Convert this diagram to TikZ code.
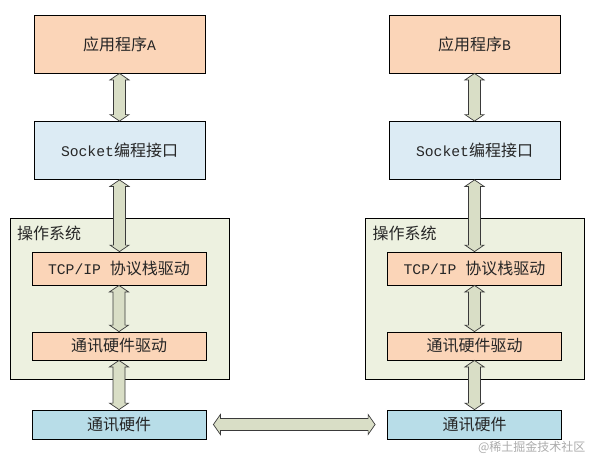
\documentclass[tikz,border=0pt]{standalone}
\usepackage{fontspec}
\setmainfont{Noto Sans CJK SC}
\setmonofont{Liberation Mono}[Scale=0.92]
\usetikzlibrary{calc}

\definecolor{appfill}{HTML}{FBD5B8}
\definecolor{sockfill}{HTML}{DCEBF4}
\definecolor{hwfill}{HTML}{B8DDE8}
\definecolor{osfill}{HTML}{EDF1E0}
\definecolor{arrowfill}{HTML}{D9DEC6}
\definecolor{arrowline}{HTML}{3A3A3A}

\begin{document}
\begin{tikzpicture}[x=1pt, y=-1pt,
        box/.style={draw=black, line width=0.8pt, inner sep=0pt, text=black!85,
            font={\fontsize{16}{19}\selectfont}},
        appbox/.style={box, fill=appfill, minimum width=171pt, minimum height=58pt},
        sockbox/.style={box, fill=sockfill, minimum width=171pt, minimum height=58pt},
        osbox/.style={box, fill=osfill, minimum width=219pt, minimum height=161pt},
        layerbox/.style={box, fill=appfill, minimum width=174pt},
        hwbox/.style={box, fill=hwfill, minimum width=174pt, minimum height=29pt},
        varrow/.style={fill=arrowfill, draw=arrowline, line width=0.7pt, line join=miter,
            to path={let \p1=(\tikztostart), \p2=(\tikztotarget) in
                (\x1,\y1) -- (\x1+9.5pt,\y1-6.5pt) -- (\x1+6pt,\y1-6.5pt)
                -- (\x1+6pt,\y2+6.5pt) -- (\x1+9.5pt,\y2+6.5pt) -- (\x1,\y2)
                -- (\x1-9.5pt,\y2+6.5pt) -- (\x1-6pt,\y2+6.5pt)
                -- (\x1-6pt,\y1-6.5pt) -- (\x1-9.5pt,\y1-6.5pt) -- cycle}},
        harrow/.style={fill=arrowfill, draw=arrowline, line width=0.7pt, line join=miter,
            to path={let \p1=(\tikztostart), \p2=(\tikztotarget) in
                (\x1,\y1) -- (\x1+7pt,\y1+10pt) -- (\x1+7pt,\y1+6pt)
                -- (\x2-7pt,\y1+6pt) -- (\x2-7pt,\y1+10pt) -- (\x2,\y1)
                -- (\x2-7pt,\y1-10pt) -- (\x2-7pt,\y1-6pt)
                -- (\x1+7pt,\y1-6pt) -- (\x1+7pt,\y1-10pt) -- cycle}}]

    \useasboundingbox (0,0) rectangle (594,459);

    % host A
    \node[osbox] (osA) at (119.5, 298.5) {};
    \node[box, draw=none, fill=none, anchor=north west] (osAtitle) at ([xshift=7pt, yshift=-8pt]osA.north west) {操作系统};
    \node[appbox] (appA) at (119.5, 44) {应用程序{\ttfamily A}};
    \node[sockbox] (sockA) at (119.5, 150.5) {{\ttfamily Socket}编程接口};
    \node[layerbox, minimum height=33pt] (tcpA) at (119, 268.5) {{\ttfamily TCP/IP }协议栈驱动};
    \node[layerbox, minimum height=28pt] (drvA) at (119, 346) {通讯硬件驱动};
    \node[hwbox] (hwA) at (119, 424.5) {通讯硬件};

    % host B
    \node[osbox] (osB) at (475, 298.5) {};
    \node[box, draw=none, fill=none, anchor=north west] (osBtitle) at ([xshift=7pt, yshift=-8pt]osB.north west) {操作系统};
    \node[appbox] (appB) at (474.5, 44) {应用程序{\ttfamily B}};
    \node[sockbox] (sockB) at (474.5, 150.5) {{\ttfamily Socket}编程接口};
    \node[layerbox, minimum height=33pt] (tcpB) at (474.5, 268.5) {{\ttfamily TCP/IP }协议栈驱动};
    \node[layerbox, minimum height=28pt] (drvB) at (474.5, 346) {通讯硬件驱动};
    \node[hwbox] (hwB) at (474.5, 424.5) {通讯硬件};

    % arrows
    \draw[varrow] (appA.south) to (sockA.north);
    \draw[varrow] (sockA.south) to (tcpA.north);
    \draw[varrow] (tcpA.south) to (drvA.north);
    \draw[varrow] (drvA.south) to (hwA.north);
    \draw[varrow] (appB.south) to (sockB.north);
    \draw[varrow] (sockB.south) to (tcpB.north);
    \draw[varrow] (tcpB.south) to (drvB.north);
    \draw[varrow] (drvB.south) to (hwB.north);
    \draw[harrow] ([xshift=7pt]hwA.east) to ([xshift=-12pt]hwB.west);

    \node[text=black!33, font={\fontsize{12}{14}\selectfont}, anchor=east] (mark) at (589, 447) {@稀土掘金技术社区};
\end{tikzpicture}
\end{document}
